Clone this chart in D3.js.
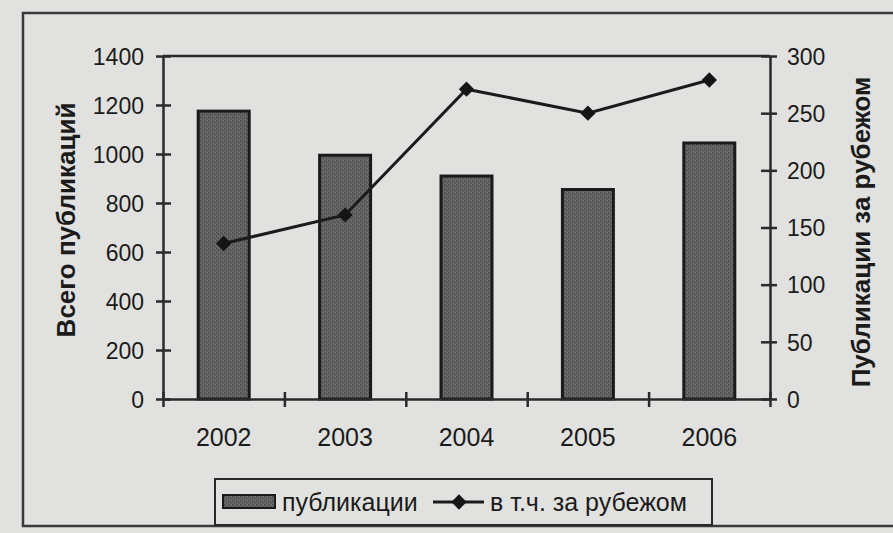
<!DOCTYPE html>
<html><head><meta charset="utf-8">
<script src="https://cdn.jsdelivr.net/npm/d3@7"></script>
<style>body{margin:0;background:#e1e2df}svg{display:block}</style>
</head><body>
<svg id="c" width="893" height="533"></svg>
<script>
const categories = ["2002","2003","2004","2005","2006"];
const publications = [1175, 995, 910, 855, 1045];
const abroad = [136, 161, 271, 250, 279];
const leftTicks = [0,200,400,600,800,1000,1200,1400];
const rightTicks = [0,50,100,150,200,250,300];
const seriesNames = ["публикации","в т.ч. за рубежом"];
const axisTitles = ["Всего публикаций","Публикации за рубежом"];

const svg = d3.select("#c");
const W=893,H=533;
const m={l:163,r:770,t:56,b:399};
const font="'Liberation Sans', Arial, sans-serif";
const ink="#1b1b1b";
svg.append("rect").attr("width",W).attr("height",H).attr("fill","#e1e2df");

const defs=svg.append("defs");
const pat=defs.append("pattern").attr("id","tex").attr("width",4).attr("height",4).attr("patternUnits","userSpaceOnUse");
pat.append("rect").attr("width",4).attr("height",4).attr("fill","#606060");
pat.append("rect").attr("x",0).attr("y",0).attr("width",1).attr("height",1).attr("fill","#444");
pat.append("rect").attr("x",2).attr("y",2).attr("width",1).attr("height",1).attr("fill","#4c4c4c");
pat.append("rect").attr("x",3).attr("y",0).attr("width",1).attr("height",1).attr("fill","#7a7a7a");
pat.append("rect").attr("x",1).attr("y",3).attr("width",1).attr("height",1).attr("fill","#767676");

// outer border
svg.append("rect").attr("x",23).attr("y",13).attr("width",900).attr("height",513)
  .attr("fill","none").attr("stroke","#3a3a3a").attr("stroke-width",2.5);

const x=d3.scaleBand().domain(categories).range([m.l,m.r]).paddingInner(0.58).paddingOuter(0.29);
const yL=d3.scaleLinear().domain([0,1400]).range([m.b,m.t]);
const yR=d3.scaleLinear().domain([0,300]).range([m.b,m.t]);

// plot frame top
svg.append("line").attr("x1",m.l).attr("x2",m.r).attr("y1",m.t).attr("y2",m.t).attr("stroke","#2a2a2a").attr("stroke-width",2.5);

// bars
svg.append("g").selectAll("rect").data(publications).join("rect")
  .attr("x",(d,i)=>x(categories[i])).attr("width",x.bandwidth())
  .attr("y",d=>yL(d)).attr("height",d=>yL(0)-yL(d))
  .attr("fill","url(#tex)").attr("stroke","#1a1a1a").attr("stroke-width",3);

// axes
function styleAxis(g){g.selectAll("path,line").attr("stroke","#2a2a2a").attr("stroke-width",2.5);
  g.selectAll("text").attr("font-family",font).attr("font-size",23).attr("fill",ink);}
const gl=svg.append("g").attr("transform",`translate(${m.l},0)`)
  .call(d3.axisLeft(yL).tickValues(leftTicks).tickFormat(d3.format("d")).tickSize(7).tickPadding(12).tickSizeOuter(0));
styleAxis(gl);
gl.selectAll(".tick line").attr("x2",8).attr("x1",-7);
gl.selectAll(".tick text").attr("dy","0.36em");
const gr=svg.append("g").attr("transform",`translate(${m.r},0)`)
  .call(d3.axisRight(yR).tickValues(rightTicks).tickFormat(d3.format("d")).tickSize(7).tickPadding(10).tickSizeOuter(0));
styleAxis(gr);
gr.selectAll(".tick line").attr("x1",-9).attr("x2",7);
gr.selectAll(".tick text").attr("dy","0.36em");

const xb=d3.scaleLinear().domain([0,5]).range([m.l,m.r]);
const gb=svg.append("g").attr("transform",`translate(0,${m.b})`)
  .call(d3.axisBottom(xb).tickValues([0,1,2,3,4,5]).tickFormat("").tickSize(8).tickSizeOuter(0));
styleAxis(gb);
gb.selectAll(".tick line").attr("y1",-7).attr("y2",8);
svg.append("g").selectAll("text").data(categories).join("text")
  .attr("x",d=>x(d)+x.bandwidth()/2).attr("y",m.b+47).attr("text-anchor","middle")
  .attr("font-family",font).attr("font-size",25).attr("fill",ink).text(d=>d);

// line
const lx=(i)=>x(categories[i])+x.bandwidth()/2;
svg.append("path").datum(abroad)
  .attr("d",d3.line().x((d,i)=>lx(i)).y(d=>yR(d)))
  .attr("fill","none").attr("stroke",ink).attr("stroke-width",3);
const diamond=d3.symbol().type(d3.symbolDiamond2).size(150);
svg.append("g").selectAll("path").data(abroad).join("path")
  .attr("transform",(d,i)=>`translate(${lx(i)},${yR(d)})`)
  .attr("d",diamond).attr("fill","#151515");

// axis titles
svg.append("text").attr("transform",`translate(75,220) rotate(-90)`)
  .attr("text-anchor","middle").attr("font-family",font).attr("font-weight","bold")
  .attr("font-size",26).attr("fill",ink).text(axisTitles[0]);
svg.append("text").attr("transform",`translate(870,232) rotate(-90)`)
  .attr("text-anchor","middle").attr("font-family",font).attr("font-weight","bold")
  .attr("font-size",26).attr("fill",ink).text(axisTitles[1]);

// legend
const lg=svg.append("g");
lg.append("rect").attr("x",215).attr("y",479).attr("width",497).attr("height",46)
  .attr("fill","none").attr("stroke","#2a2a2a").attr("stroke-width",2);
lg.append("rect").attr("x",223).attr("y",495).attr("width",52).attr("height",13)
  .attr("fill","url(#tex)").attr("stroke","#1a1a1a").attr("stroke-width",2);
lg.append("text").attr("x",282).attr("y",511).attr("font-family",font).attr("font-size",25)
  .attr("fill",ink).text(seriesNames[0]);
lg.append("line").attr("x1",433).attr("x2",484).attr("y1",502).attr("y2",502).attr("stroke",ink).attr("stroke-width",3);
lg.append("path").attr("transform","translate(459,502)").attr("d",diamond).attr("fill","#151515");
lg.append("text").attr("x",490).attr("y",511).attr("font-family",font).attr("font-size",25)
  .attr("fill",ink).text(seriesNames[1]);
</script>
</body></html>
